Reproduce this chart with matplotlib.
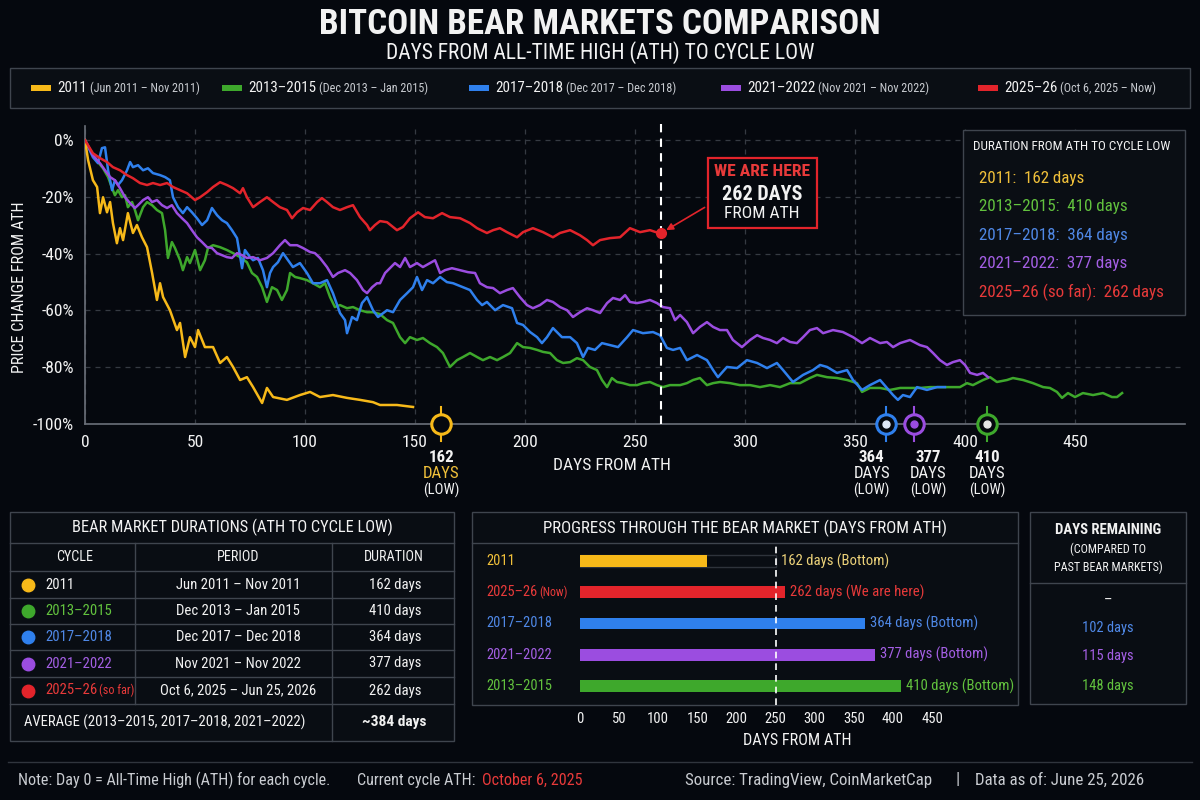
import matplotlib
matplotlib.use('Agg')
import matplotlib.pyplot as plt
import matplotlib.transforms as mtransforms
from matplotlib.patches import Rectangle
from matplotlib.lines import Line2D

plt.rcParams['font.family'] = ['Roboto Condensed', 'Liberation Sans Narrow', 'Roboto', 'DejaVu Sans']
plt.rcParams['axes.unicode_minus'] = False

# ---------------- data ----------------
cycle_names = ['2011', '2013–2015', '2017–2018', '2021–2022', '2025–26']
legend_periods = ['(Jun 2011 – Nov 2011)', '(Dec 2013 – Jan 2015)', '(Dec 2017 – Dec 2018)',
                  '(Nov 2021 – Nov 2022)', '(Oct 6, 2025 – Now)']
table_periods = ['Jun 2011 – Nov 2011', 'Dec 2013 – Jan 2015', 'Dec 2017 – Dec 2018',
                 'Nov 2021 – Nov 2022', 'Oct 6, 2025 – Jun 25, 2026']
durations = [162, 410, 364, 377, 262]
current_day = 262
avg_idx = [1, 2, 3]

days_2011 = [0, 1.4, 3.6, 5.5, 6.8, 8.2, 10.0, 11.4, 12.7, 14.5,
             15.9, 17.3, 19.5, 21.8, 23.6, 25.9, 28.2, 30.5, 32.7, 34.1,
             35.5, 38.6, 41.8, 43.2, 45.5, 47.7, 50.0, 51.4, 54.5, 58.2,
             61.4, 64.5, 67.3, 70.5, 73.6, 76.4, 80.5, 82.7, 85.5, 91.8,
             97.7, 102.3, 106.8, 112.7, 119.1, 125.0, 130.9, 134.1, 141.8, 149.1]
pct_2011 = [0, -7.0, -14.1, -16.5, -25.7, -20.1, -25.4, -21.8, -29.2, -36.3,
            -31.0, -35.2, -25.7, -32.7, -29.9, -34.2, -37.7, -46.8, -56.3, -50.4,
            -55.3, -59.9, -66.9, -64.4, -76.4, -69.4, -72.9, -66.9, -72.9, -72.9,
            -78.5, -76.4, -79.9, -84.5, -83.5, -87.0, -92.6, -87.3, -90.5, -91.5,
            -89.8, -88.7, -90.5, -89.8, -90.8, -91.5, -92.3, -93.3, -93.3, -94.0]

days_2013 = [0, 3.6, 5.9, 8.2, 10.5, 12.3, 13.6, 15.0, 16.8, 18.2,
             19.5, 21.4, 22.7, 24.1, 26.4, 28.2, 30.5, 32.7, 35.0, 36.4,
             37.7, 39.5, 40.9, 43.2, 44.5, 46.4, 47.7, 50.0, 52.3, 54.5,
             55.9, 58.2, 61.4, 64.5, 67.3, 70.5, 73.6, 75.9, 78.2, 80.5,
             82.7, 85.0, 87.3, 89.5, 91.8, 93.2, 95.5, 97.7, 100.9, 103.6,
             106.8, 109.1, 111.4, 113.6, 115.9, 119.1, 121.8, 125.0, 128.2, 130.9,
             134.1, 137.3, 140.0, 143.2, 145.5, 147.7, 150.9, 153.6, 156.8, 160.0,
             162.7, 165.9, 169.1, 171.8, 175.0, 178.2, 180.9, 184.1, 187.3, 190.0,
             193.2, 196.4, 199.1, 202.3, 205.5, 208.2, 211.4, 214.5, 217.3, 220.5,
             223.6, 226.4, 229.5, 232.7, 235.0, 237.3, 239.5, 241.8, 244.5, 247.7,
             250.9, 253.6, 256.8, 260.0, 262.7, 265.9, 270.5, 273.6, 276.4, 279.5,
             282.7, 285.5, 288.6, 293.2, 297.7, 302.3, 306.8, 311.4, 315.9, 320.5,
             325.0, 329.5, 332.7, 337.3, 341.8, 346.4, 350.9, 353.2, 356.8, 361.4,
             365.9, 370.5, 375.0, 379.5, 384.1, 388.6, 393.2, 397.7, 400.9, 403.6,
             408.2, 411.4, 414.5, 419.1, 421.8, 426.4, 430.9, 435.5, 438.6, 441.8,
             444.1, 446.8, 450.0, 453.6, 458.2, 462.7, 466.8, 469.1, 471.4]
pct_2013 = [0, -5.3, -7.7, -9.9, -13.0, -16.9, -19.4, -17.6, -20.1, -19.4,
            -23.6, -21.8, -24.6, -28.2, -23.6, -21.8, -22.9, -24.6, -25.7, -31.7,
            -41.5, -35.9, -38.0, -42.3, -45.8, -41.2, -43.3, -38.7, -45.8, -42.3,
            -38.0, -37.0, -37.7, -38.7, -39.8, -41.2, -43.0, -46.8, -48.2, -51.8,
            -57.0, -51.8, -52.8, -56.3, -52.8, -46.8, -48.2, -48.6, -49.3, -50.4,
            -51.8, -50.4, -55.3, -58.8, -58.1, -59.2, -58.8, -59.9, -60.6, -60.6,
            -61.3, -63.4, -64.4, -69.4, -71.5, -69.4, -70.4, -69.7, -71.5, -72.9,
            -75.0, -79.9, -77.5, -76.4, -75.0, -76.4, -77.5, -76.4, -77.5, -76.4,
            -75.0, -71.5, -72.9, -73.2, -73.9, -74.6, -75.0, -77.5, -78.5, -78.2,
            -76.8, -77.5, -79.9, -81.0, -84.5, -87.0, -83.8, -85.2, -85.6, -86.3,
            -86.3, -85.6, -85.2, -86.3, -87.0, -86.3, -86.3, -85.6, -84.5, -83.8,
            -86.3, -85.6, -85.2, -85.6, -86.3, -86.3, -87.0, -86.3, -87.0, -85.6,
            -85.6, -83.8, -82.7, -83.5, -83.8, -84.5, -85.6, -88.7, -87.3, -87.3,
            -88.0, -87.3, -87.3, -87.3, -87.0, -87.0, -87.0, -87.0, -85.6, -86.3,
            -84.5, -83.5, -85.2, -84.5, -83.8, -84.5, -85.6, -87.0, -87.3, -88.7,
            -90.8, -89.1, -90.5, -89.1, -89.8, -89.1, -90.5, -90.5, -89.1]

days_2017 = [0, 3.6, 5.9, 7.7, 9.1, 10.5, 12.3, 13.6, 15.0, 16.8,
             19.1, 20.5, 21.8, 24.1, 26.4, 28.6, 30.9, 34.1, 36.4, 38.6,
             40.0, 42.3, 44.5, 46.4, 48.6, 50.9, 53.2, 55.5, 57.7, 60.0,
             62.3, 64.5, 66.8, 69.1, 71.4, 72.7, 75.0, 76.4, 78.6, 80.9,
             82.7, 84.1, 85.5, 87.7, 90.0, 92.3, 94.5, 97.7, 100.9, 103.6,
             106.8, 110.0, 112.7, 115.9, 118.2, 119.1, 121.4, 123.6, 125.9, 128.2,
             130.9, 133.2, 137.3, 140.0, 143.2, 146.4, 149.1, 150.9, 153.2, 155.5,
             158.2, 161.4, 164.5, 167.3, 171.8, 175.0, 178.2, 180.5, 182.7, 186.4,
             190.0, 194.1, 196.4, 199.1, 202.3, 205.5, 207.7, 210.0, 212.7, 216.8,
             220.5, 223.6, 226.4, 228.6, 231.8, 235.0, 238.6, 242.3, 246.4, 249.1,
             253.6, 258.2, 261.4, 264.5, 267.3, 270.5, 273.6, 278.2, 282.7, 285.5,
             287.7, 291.8, 296.4, 300.9, 305.5, 310.0, 314.5, 317.3, 321.8, 326.4,
             330.9, 334.1, 337.3, 341.8, 346.4, 349.1, 353.2, 356.8, 361.4, 364.5,
             367.3, 369.5, 371.8, 375.0, 378.2, 382.7, 387.3, 390.9]
pct_2017 = [0, -6.0, -8.1, -2.8, -2.5, -10.6, -17.6, -14.1, -15.8, -14.1,
            -10.6, -7.7, -9.5, -8.8, -10.6, -9.9, -11.6, -12.3, -13.0, -14.1,
            -20.1, -23.6, -25.7, -23.6, -25.4, -27.5, -29.9, -28.2, -23.9, -26.4,
            -28.2, -29.2, -31.7, -34.5, -45.1, -38.7, -41.2, -42.3, -41.5, -45.8,
            -51.8, -46.8, -44.7, -43.0, -39.8, -42.3, -44.7, -43.3, -46.8, -50.4,
            -50.4, -49.3, -53.9, -60.9, -63.4, -68.0, -62.3, -63.4, -57.4, -55.3,
            -59.9, -62.3, -59.9, -60.6, -56.3, -53.9, -51.8, -48.2, -52.8, -49.3,
            -50.4, -48.2, -50.0, -50.4, -51.8, -52.8, -56.3, -58.1, -57.0, -59.9,
            -58.1, -59.2, -64.4, -65.1, -67.6, -69.4, -71.5, -69.4, -66.2, -69.4,
            -69.4, -71.5, -76.4, -73.2, -73.9, -71.5, -72.2, -72.9, -69.4, -66.9,
            -68.0, -67.6, -68.7, -73.2, -73.9, -73.2, -77.5, -75.7, -77.5, -81.0,
            -83.5, -79.9, -80.3, -77.5, -78.5, -80.3, -78.5, -81.0, -85.2, -82.7,
            -81.0, -79.2, -79.9, -82.0, -81.0, -84.5, -88.0, -86.3, -84.5, -87.3,
            -89.8, -91.5, -89.8, -90.5, -87.0, -88.0, -87.0, -87.0]

days_2021 = [0, 3.6, 6.8, 9.1, 11.4, 13.6, 15.9, 18.2, 20.5, 22.7,
             24.1, 26.4, 28.6, 30.5, 32.7, 35.0, 37.3, 39.5, 41.8, 44.1,
             46.4, 48.6, 50.9, 53.2, 55.5, 57.7, 60.0, 62.3, 64.5, 66.8,
             69.1, 71.4, 73.6, 76.4, 79.5, 82.7, 85.5, 88.6, 90.9, 93.2,
             96.4, 99.1, 102.3, 104.5, 106.8, 110.0, 112.7, 115.0, 118.2, 120.5,
             123.6, 126.4, 128.2, 130.5, 132.7, 134.1, 136.4, 138.6, 140.9, 143.2,
             145.5, 147.7, 150.9, 153.6, 156.8, 159.1, 161.4, 163.6, 166.8, 170.5,
             174.1, 177.3, 179.5, 182.7, 185.5, 188.6, 191.8, 194.5, 197.7, 200.9,
             203.6, 206.8, 210.0, 212.7, 215.9, 219.1, 221.8, 225.0, 228.2, 230.9,
             234.1, 237.3, 240.0, 243.2, 245.5, 247.7, 250.9, 253.6, 256.8, 260.0,
             262.7, 265.9, 268.2, 270.5, 273.6, 276.4, 279.5, 282.7, 285.5, 288.6,
             291.8, 294.5, 298.6, 302.3, 305.5, 308.2, 311.4, 314.5, 317.3, 320.5,
             323.6, 326.4, 329.5, 332.7, 335.5, 340.0, 344.5, 349.1, 353.2, 356.8,
             361.4, 364.5, 367.3, 370.5, 375.0, 379.5, 382.7, 385.5, 388.6, 391.8,
             394.5, 397.7, 400.0, 402.3, 405.5, 408.2, 410.5]
pct_2021 = [0, -5.3, -8.1, -10.6, -13.0, -14.1, -16.9, -20.1, -22.2, -23.9,
            -22.9, -21.1, -20.1, -21.8, -21.1, -22.9, -23.9, -22.9, -25.7, -27.5,
            -29.2, -31.7, -34.2, -35.9, -37.7, -38.0, -39.8, -40.5, -41.2, -41.5,
            -39.8, -40.5, -41.5, -41.2, -42.3, -41.5, -39.8, -37.0, -35.2, -37.0,
            -37.0, -38.0, -39.4, -39.8, -41.5, -44.7, -48.2, -46.8, -45.8, -46.8,
            -49.3, -52.8, -53.9, -51.8, -50.4, -50.4, -46.8, -45.1, -43.3, -44.7,
            -41.5, -44.7, -43.3, -44.7, -43.3, -42.3, -46.8, -45.8, -45.1, -45.8,
            -46.5, -46.8, -50.4, -51.8, -52.1, -53.9, -52.8, -52.1, -55.3, -58.1,
            -59.2, -58.1, -56.3, -57.0, -58.8, -59.9, -62.3, -60.6, -59.2, -59.9,
            -60.9, -57.4, -55.6, -56.3, -54.6, -57.0, -57.4, -57.0, -56.3, -57.4,
            -58.8, -59.2, -63.4, -61.6, -64.1, -68.0, -65.8, -64.1, -65.8, -66.9,
            -66.9, -70.4, -72.9, -70.4, -68.7, -69.7, -70.4, -71.5, -69.7, -71.1,
            -71.5, -69.4, -66.9, -66.2, -68.0, -66.9, -67.6, -69.4, -71.5, -69.7,
            -71.5, -71.1, -72.9, -71.5, -70.4, -72.2, -72.9, -75.0, -77.5, -79.2,
            -78.2, -77.5, -79.2, -82.0, -82.7, -82.0, -83.5]

days_2025 = [0, 3.6, 6.8, 10.0, 12.7, 15.9, 19.1, 21.8, 25.0, 28.2,
             30.9, 34.1, 37.3, 40.0, 43.2, 46.4, 50.0, 52.3, 55.5, 58.2,
             61.4, 64.5, 67.3, 70.5, 71.8, 73.6, 76.4, 79.5, 82.7, 85.5,
             88.6, 91.8, 94.1, 96.4, 99.1, 102.3, 105.5, 107.7, 110.0, 112.7,
             115.9, 119.1, 121.8, 125.0, 128.2, 129.5, 131.8, 134.1, 137.3, 141.8,
             144.5, 147.7, 151.4, 154.5, 158.2, 162.3, 165.9, 170.5, 175.0, 178.2,
             182.7, 185.5, 188.6, 191.8, 196.4, 199.1, 203.6, 208.2, 212.7, 215.9,
             220.5, 225.0, 228.2, 230.9, 234.1, 238.6, 243.2, 247.7, 252.3, 256.8,
             259.5, 262]
pct_2025 = [0, -4.6, -6.3, -7.7, -9.5, -10.6, -12.3, -13.4, -15.1, -15.8,
            -15.1, -15.8, -15.1, -16.5, -17.6, -18.7, -21.1, -20.1, -18.3, -16.5,
            -14.8, -15.8, -16.9, -18.7, -16.9, -20.1, -23.6, -21.8, -20.1, -21.8,
            -23.6, -24.6, -27.5, -25.4, -23.9, -24.6, -21.8, -20.4, -21.8, -23.6,
            -24.6, -23.6, -22.9, -27.1, -29.9, -31.7, -29.9, -28.5, -28.9, -31.7,
            -30.6, -27.5, -25.4, -27.1, -27.5, -25.7, -27.1, -27.5, -29.2, -31.0,
            -32.7, -31.7, -31.0, -32.4, -34.2, -32.4, -31.0, -32.4, -34.2, -32.7,
            -31.7, -33.5, -35.2, -37.0, -35.2, -34.5, -34.2, -31.0, -32.4, -31.7,
            -32.4, -32.7]

series_days = [days_2011, days_2013, days_2017, days_2021, days_2025]
series_pct = [pct_2011, pct_2013, pct_2017, pct_2021, pct_2025]

yticks = [0, -20, -40, -60, -80, -100]
xticks = [0, 50, 100, 150, 200, 250, 300, 350, 400, 450]
bar_ticks = [0, 50, 100, 150, 200, 250, 300, 350, 400, 450]

progress_order = [0, 4, 2, 3, 1]
progress_labels = ['2011', '2025–26', '2017–2018', '2021–2022', '2013–2015']
progress_suffix = ['(Bottom)', '(We are here)', '(Bottom)', '(Bottom)', '(Bottom)']
remaining_order = [0, 2, 3, 1]
low_order = [0, 2, 3, 1]

# ---------------- style ----------------
BG = '#05080e'
PANEL = '#0a0e14'
EDGE = '#3f454e'
GRID = '#353a42'
WHITE = '#f2f2f2'
LIGHT = '#c9ccd1'
LINE_C = ['#f7b919', '#3ea82c', '#2f80ed', '#9b4de0', '#e3242b']
TEXT_C = ['#f0c03a', '#62c23e', '#4f88e6', '#a45fe4', '#e83a3a']
BAR_TXT = ['#ecd27a', '#62c23e', '#4f88e6', '#a45fe4', '#e83a3a']

W, H = 1200, 800
fig = plt.figure(figsize=(12, 8), dpi=100, facecolor=BG)
renderer = fig.canvas.get_renderer()

# scale all font sizes so text widths match the (condensed) reference typography
_probe = fig.text(0, 0, 'BITCOIN BEAR MARKETS COMPARISON', fontsize=26, fontweight='bold')
FS = min(1.0, 562.0 / _probe.get_window_extent(renderer).width)
_probe.remove()


def F(s):
    return s * FS


def fx(x):
    return x / W


def fy(y):
    return 1 - y / H


def frect(x0, y0, x1, y1, fc=PANEL, ec=EDGE, lw=1.0, z=3):
    r = Rectangle((fx(x0), fy(y1)), (x1 - x0) / W, (y1 - y0) / H, transform=fig.transFigure,
                  facecolor=fc, edgecolor=ec, linewidth=lw, zorder=z)
    fig.add_artist(r)


def fline(xs, ys, color=EDGE, lw=1.0, z=4, **kw):
    fig.add_artist(Line2D([fx(v) for v in xs], [fy(v) for v in ys], transform=fig.transFigure,
                          color=color, lw=lw, zorder=z, **kw))


def ftext(x, y, s, size, **kw):
    kw.setdefault('zorder', 6)
    kw.setdefault('va', 'center')
    return fig.text(fx(x), fy(y), s, fontsize=F(size), **kw)


def chain(x, y, parts, transform=None, z=6):
    if transform is None:
        transform = fig.transFigure
        x, y = fx(x), fy(y)
    dx = 0.0
    for s, size, kw, gap in parts:
        tr = transform + mtransforms.ScaledTranslation(dx / fig.dpi, 0, fig.dpi_scale_trans)
        t = fig.text(x, y, s, transform=tr, ha='left', va='center', zorder=z, fontsize=F(size), **kw)
        dx += t.get_window_extent(renderer).width + gap
    return dx


# ---------------- title ----------------
ftext(600, 24, 'BITCOIN BEAR MARKETS COMPARISON', 26, ha='center', fontweight='bold', color=WHITE)
ftext(600, 53, 'DAYS FROM ALL-TIME HIGH (ATH) TO CYCLE LOW', 16, ha='center', color=WHITE)

# ---------------- legend bar ----------------
frect(10, 68, 1190, 108, fc='#0a0e14')
legend_x = [31, 222, 469, 721, 978]
for i in range(5):
    x0 = legend_x[i]
    fig.add_artist(Rectangle((fx(x0), fy(91)), 20 / W, 6 / H, transform=fig.transFigure,
                             facecolor=LINE_C[i], edgecolor='none', zorder=5))
    chain(x0 + 26, 88, [(cycle_names[i], 11.2, dict(color=WHITE), 3),
                        (legend_periods[i], 9, dict(color=LIGHT), 0)])

# ---------------- main chart ----------------
ax = fig.add_axes([fx(85), fy(424), (1185 - 85) / W, (424 - 126) / H])
ax.set_facecolor(BG)
ax.set_xlim(0, 500)
ax.set_ylim(-100, 5)
for sp in ['top', 'right']:
    ax.spines[sp].set_visible(False)
for sp in ['left', 'bottom']:
    ax.spines[sp].set_color('#6b7079')
    ax.spines[sp].set_linewidth(1.2)
ax.set_yticks(yticks)
ax.set_yticklabels([f'{v}%' for v in yticks])
ax.set_xticks(xticks)
ax.set_xticklabels([str(v) for v in xticks])
ax.tick_params(length=0, colors=WHITE, labelsize=F(13), pad=8)
ax.grid(True, ls=(0, (4, 4)), color=GRID, lw=0.9)
ax.set_axisbelow(True)

for i in [1, 2, 3, 0, 4]:
    ax.plot(series_days[i], series_pct[i], color=LINE_C[i], lw=1.8, zorder=3 + (i == 4))

last_pct = pct_2025[-1]
ax.plot([current_day, current_day], [-100, 7], color='white', lw=1.5, ls=(0, (4, 3)),
        clip_on=False, zorder=5)
ax.plot(current_day, last_pct, 'o', color=LINE_C[4], ms=7, zorder=6)

fig.text(fx(20), fy(287), 'PRICE CHANGE FROM ATH', rotation=90, ha='center', va='center',
         fontsize=F(12), color=WHITE)
ftext(612, 465, 'DAYS FROM ATH', 13, ha='center', color=WHITE)

# cycle-low markers
inner_c = {0: BG, 1: '#e6e6e6', 2: '#dfe8f7', 3: LINE_C[3]}
label_dx = {0: 0, 1: 0, 2: -14, 3: 14}
btr = mtransforms.blended_transform_factory(ax.transData, fig.transFigure)
for i in low_order:
    d = durations[i]
    ax.plot([d, d], [-106, -94], color=LINE_C[i], lw=1.5, clip_on=False, zorder=7)
    ax.plot(d, -100, 'o', ms=14, mfc=BG, mec=LINE_C[i], mew=2.2, clip_on=False, zorder=8)
    ax.plot(d, -100, 'o', ms=5, color=inner_c[i], clip_on=False, zorder=9)
    off = btr + mtransforms.ScaledTranslation(label_dx[i] / fig.dpi, 0, fig.dpi_scale_trans)
    fig.text(d, fy(458), str(d), transform=off, ha='center', va='center', fontsize=F(12.5),
             fontweight='bold', color=WHITE)
    fig.text(d, fy(474), 'DAYS', transform=off, ha='center', va='center', fontsize=F(12.5),
             color=TEXT_C[0] if i == 0 else WHITE)
    fig.text(d, fy(490), '(LOW)', transform=off, ha='center', va='center', fontsize=F(11),
             color=WHITE)

# "we are here" callout
frect(708, 158, 817, 228, fc=BG, ec=LINE_C[4], lw=1.6, z=5)
ftext(762, 172, 'WE ARE HERE', 13, ha='center', fontweight='bold', color=TEXT_C[4])
ftext(762, 194, f'{current_day} DAYS', 15, ha='center', fontweight='bold', color=WHITE)
ftext(762, 214, 'FROM ATH', 13, ha='center', color=WHITE)
ax.annotate('', xy=(current_day, last_pct), xytext=(fx(707), fy(206)), textcoords='figure fraction',
            arrowprops=dict(arrowstyle='-|>', color=LINE_C[4], lw=1.2, mutation_scale=10, shrinkB=4),
            annotation_clip=False, zorder=9)

# duration box
frect(963, 130, 1185, 315, fc='#0a0e14', z=5)
ftext(973, 147, 'DURATION FROM ATH TO CYCLE LOW', 9.8, ha='left', color=WHITE)
dur_names = ['2011', '2013–2015', '2017–2018', '2021–2022', '2025–26 (so far)']
for k in range(5):
    ftext(979, 178 + k * 28.6, f'{dur_names[k]}:  {durations[k]} days', 12.6, ha='left',
          color=TEXT_C[k])

# ---------------- bottom-left table ----------------
frect(10, 512, 454, 741, fc='#090d13', z=2)
for yy in [543, 571, 598, 624, 650, 677, 704]:
    fline([10, 454], [yy, yy])
fline([135, 135], [543, 704])
fline([332, 332], [543, 741])
ftext(232, 527, 'BEAR MARKET DURATIONS (ATH TO CYCLE LOW)', 12.2, ha='center', color=WHITE)
ftext(75, 557, 'CYCLE', 10.5, ha='center', color=WHITE)
ftext(238, 557, 'PERIOD', 10.5, ha='center', color=WHITE)
ftext(394, 557, 'DURATION', 10.5, ha='center', color=WHITE)
row_y = [585, 611, 637, 663.5, 690.5]
for k in range(5):
    y = row_y[k]
    fig.add_artist(Line2D([fx(28)], [fy(y)], marker='o', ms=9, color=LINE_C[k], lw=0,
                          transform=fig.transFigure, zorder=6))
    lab_c = WHITE if k == 0 else TEXT_C[k]
    if k == 4:
        chain(45, y, [(cycle_names[k], 11, dict(color=lab_c), 2),
                      ('(so far)', 9, dict(color=lab_c), 0)])
    else:
        ftext(45, y, cycle_names[k], 11, ha='left', color=lab_c)
    ftext(238, y, table_periods[k], 11, ha='center', color=WHITE)
    ftext(395, y, f'{durations[k]} days', 11, ha='center', color=WHITE)
avg_val = round(sum(durations[i] for i in avg_idx) / len(avg_idx))
ftext(24, 722, 'AVERAGE (' + ', '.join(cycle_names[i] for i in avg_idx) + ')', 11, ha='left',
      color=WHITE)
ftext(394, 722, f'~{avg_val} days', 11.5, ha='center', fontweight='bold', color=WHITE)

# ---------------- progress bars ----------------
frect(472, 512, 1018, 705, fc='#090d13', z=-2)
fline([472, 1018], [543, 543], z=-1)
ftext(745, 528, 'PROGRESS THROUGH THE BEAR MARKET (DAYS FROM ATH)', 12.5, ha='center', color=WHITE)
ax2 = fig.add_axes([fx(580), fy(705), (1015 - 580) / W, (705 - 546) / H])
ax2.set_facecolor('none')
for sp in ax2.spines.values():
    sp.set_visible(False)
ax2.set_xlim(0, 556)
ax2.set_ylim(4.61, -0.48)
ax2.set_yticks([])
ax2.set_xticks(bar_ticks)
ax2.set_xticklabels([str(v) for v in bar_ticks])
ax2.tick_params(length=0, colors=WHITE, labelsize=F(11), pad=5)
ax2.set_xlabel('DAYS FROM ATH', color=WHITE, fontsize=F(12), labelpad=5)
ax2.barh(0, 250, height=0.38, facecolor='none', edgecolor='#2e333b', lw=1, zorder=1)
ytr = mtransforms.blended_transform_factory(fig.transFigure, ax2.transData)
for r, i in enumerate(progress_order):
    v = durations[i]
    ax2.barh(r, v, height=0.38, color=LINE_C[i], zorder=2)
    lx = max(v, 250) + 7
    ax2.text(lx, r, f'{v} days {progress_suffix[r]}', ha='left', va='center', fontsize=F(11),
             color=BAR_TXT[i], zorder=4)
    if i == 4:
        chain(fx(486), r, [(progress_labels[r], 10.8, dict(color=TEXT_C[i]), 2),
                           ('(Now)', 8.8, dict(color=TEXT_C[i]), 0)], transform=ytr)
    else:
        fig.text(fx(486), r, progress_labels[r], transform=ytr, ha='left', va='center',
                 fontsize=F(10.8), color=TEXT_C[i])
ax2.axvline(250, color='white', ls=(0, (4, 3)), lw=1.2, zorder=3)

# ---------------- days remaining ----------------
frect(1030, 512, 1186, 704, fc='#090d13', z=2)
fline([1030, 1186], [583, 583])
ftext(1108, 530, 'DAYS REMAINING', 11, ha='center', fontweight='bold', color=WHITE)
ftext(1108, 549, '(COMPARED TO', 9, ha='center', color=WHITE)
ftext(1108, 567, 'PAST BEAR MARKETS)', 9, ha='center', color=WHITE)
rem_y = [601, 628, 656, 686]
for k, i in enumerate(remaining_order):
    rem = durations[i] - current_day
    if rem <= 0:
        ftext(1108, rem_y[k], '–', 11, ha='center', color=WHITE)
    else:
        ftext(1108, rem_y[k], f'{rem} days', 10.8, ha='center', color=TEXT_C[i])

# ---------------- footer ----------------
fline([8, 1192], [762, 762], color='#30353d')
ftext(18, 780, 'Note: Day 0 = All-Time High (ATH) for each cycle.', 12, ha='left', color=LIGHT)
chain(357, 780, [('Current cycle ATH: ', 12, dict(color=LIGHT), 3),
                 ('October 6, 2025', 12, dict(color=TEXT_C[4]), 0)])
ftext(685, 780, 'Source: TradingView, CoinMarketCap', 12.5, ha='left', color=LIGHT)
ftext(958, 780, '|', 12.5, ha='center', color=LIGHT)
ftext(975, 780, 'Data as of: June 25, 2026', 12.5, ha='left', color=LIGHT)

fig.savefig('out.png', dpi=100, facecolor=BG)
